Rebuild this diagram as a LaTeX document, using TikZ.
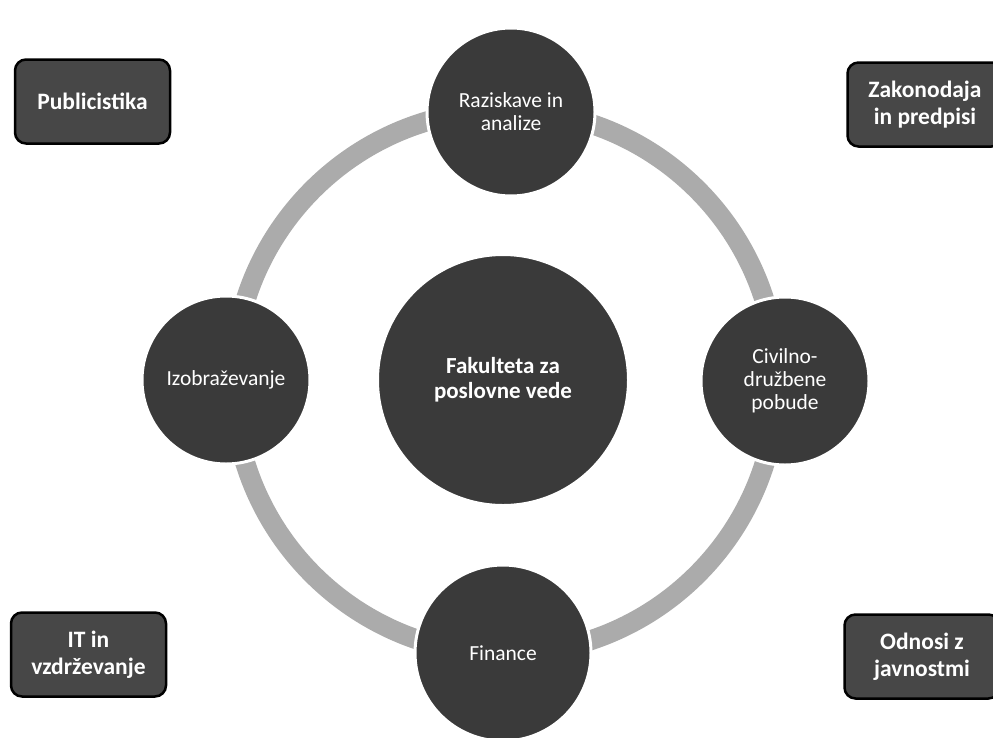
\documentclass[tikz,border=0pt]{standalone}
\usepackage{fontspec}
\setmainfont{Carlito}
\definecolor{ringcol}{HTML}{ABABAB}
\definecolor{circcol}{HTML}{3A3A3A}
\definecolor{boxcol}{HTML}{474747}
\begin{document}
\begin{tikzpicture}[x=1pt,y=-1pt,
  sat/.style={circle, fill=circcol, draw=white, line width=3pt, text=white,
    minimum size=168pt, inner sep=0pt, align=center,
    font=\fontsize{21.5}{23}\selectfont},
  hub/.style={circle, fill=circcol, draw=white, line width=2pt, text=white,
    minimum size=250pt, inner sep=0pt, align=center,
    font=\bfseries\fontsize{23}{25}\selectfont},
  tag/.style={rectangle, rounded corners=11pt, fill=boxcol, draw=black,
    line width=2.5pt, text=white, minimum width=155pt, minimum height=84pt,
    inner sep=0pt, align=center, font=\bfseries\fontsize{23.5}{27}\selectfont}]
\useasboundingbox (0,0) rectangle (993,737);
\fill[white] (0,0) rectangle (993,737);
\clip (0,0) rectangle (993,737);
\coordinate (c) at (505,382);
\draw[ringcol, line width=20pt] (c) circle (272);
\node[hub] (hub) at (503,380) {Fakulteta za\\poslovne vede};
\node[sat] (top) at (511,112) {Raziskave in\\analize};
\node[sat] (right) at (785,381) {Civilno-\\družbene\\pobude};
\node[sat] (left) at (226,380) {Izobraževanje};
\node[sat, minimum size=176pt] (bottom) at (503,653) {Finance};
\node[tag] (pub) at (92.5,101.5) {Publicistika};
\node[tag] (zak) at (925,104.5) {Zakonodaja\\in predpisi};
\node[tag] (it) at (88.5,654.5) {IT in\\vzdrževanje};
\node[tag] (odn) at (922,656.5) {Odnosi z\\javnostmi};
\end{tikzpicture}
\end{document}
